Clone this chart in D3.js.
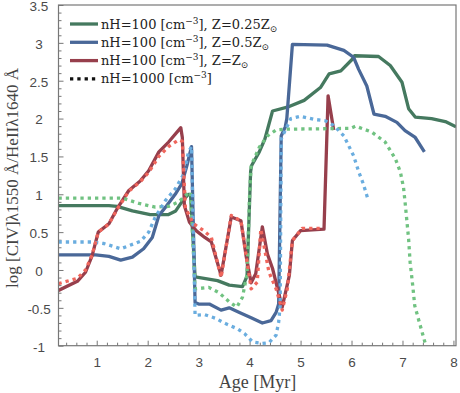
<!DOCTYPE html>
<html>
<head>
<meta charset="utf-8">
<script src="https://cdn.jsdelivr.net/npm/d3@7"></script>
<style>
body { margin: 0; background: #fff; }
.tick text { font-family: "Liberation Sans", Arial, sans-serif; font-size: 13.5px; fill: #4a4a4a; }
.lab { font-family: "DejaVu Serif", serif; fill: #444; }
.axlab { font-family: "Liberation Serif", serif; fill: #444; }
</style>
</head>
<body>
<div id="chart"></div>
<script>
// [age (Myr), log CIV/HeII]
var green100 = [[0.25,0.85],[1.24,0.85],[1.4,0.84],[1.7,0.78],[2.05,0.73],[2.4,0.73],[2.55,0.78],[2.67,0.9],[2.8,1.0],[2.84,1.0],[2.93,-0.09],[3.37,-0.14],[3.6,-0.2],[3.86,-0.22],[3.95,-0.08],[4.02,1.3],[4.04,1.38],[4.19,1.56],[4.3,1.73],[4.45,2.10],[4.74,2.15],[5.07,2.24],[5.39,2.41],[5.56,2.59],[5.79,2.63],[6.01,2.78],[6.06,2.83],[6.53,2.82],[6.76,2.70],[6.99,2.48],[7.12,2.13],[7.25,2.02],[7.57,2.00],[7.84,1.96],[8.05,1.89]];
var blue100 = [[0.25,0.20],[0.98,0.20],[1.24,0.18],[1.47,0.13],[1.70,0.17],[1.92,0.28],[2.09,0.43],[2.22,0.72],[2.35,0.83],[2.54,1.0],[2.67,1.14],[2.77,1.38],[2.86,1.63],[2.93,-0.43],[3.0,-0.45],[3.21,-0.45],[3.44,-0.53],[3.6,-0.50],[3.8,-0.56],[4.03,-0.63],[4.25,-0.70],[4.42,-0.67],[4.52,-0.56],[4.57,-0.45],[4.62,1.77],[4.7,1.89],[4.73,2.0],[4.84,2.98],[5.52,2.97],[5.85,2.90],[6.04,2.81],[6.14,2.65],[6.30,2.43],[6.44,2.06],[6.66,2.03],[6.89,1.95],[7.05,1.84],[7.25,1.75],[7.43,1.56]];
var red100 = [[0.25,-0.27],[0.62,-0.15],[0.78,-0.03],[0.91,0.19],[1.03,0.50],[1.24,0.61],[1.40,0.81],[1.63,1.05],[1.86,1.18],[2.02,1.31],[2.22,1.56],[2.41,1.69],[2.65,1.88],[2.68,1.75],[2.72,0.85],[2.82,0.63],[2.95,0.52],[3.12,0.43],[3.25,0.37],[3.44,-0.07],[3.64,0.70],[3.83,0.65],[3.93,0.19],[4.03,-0.17],[4.12,-0.05],[4.25,0.57],[4.35,0.21],[4.45,0.02],[4.64,-0.49],[4.78,-0.07],[4.84,0.39],[5.0,0.52],[5.46,0.54],[5.54,2.30],[5.65,1.85]];
var green1000 = [[0.25,0.95],[1.5,0.95],[1.83,0.88],[2.15,0.83],[2.41,0.84],[2.61,0.90],[2.77,1.0],[2.84,1.03],[2.93,-0.25],[3.2,-0.23],[3.4,-0.3],[3.6,-0.42],[3.75,-0.49],[3.86,-0.36],[3.95,-0.05],[4.0,1.0],[4.03,1.38],[4.19,1.62],[4.35,1.77],[4.52,1.85],[4.74,1.86],[5.98,1.87],[6.08,1.90],[6.4,1.82],[6.66,1.69],[6.86,1.47],[6.96,1.29],[7.02,1.09],[7.05,0.90],[7.12,0.41],[7.15,0.10],[7.2,-0.2],[7.24,-0.47],[7.31,-0.64],[7.43,-0.93],[7.46,-1.0]];
var blue1000 = [[0.25,0.37],[0.91,0.37],[1.14,0.35],[1.47,0.28],[1.63,0.32],[1.86,0.38],[2.02,0.50],[2.15,0.70],[2.35,0.92],[2.54,1.07],[2.71,1.27],[2.80,1.56],[2.86,1.63],[2.93,-0.60],[3.12,-0.59],[3.34,-0.64],[3.5,-0.70],[3.6,-0.73],[3.77,-0.78],[3.9,-0.84],[4.06,-0.95],[4.25,-0.97],[4.38,-0.96],[4.52,-0.86],[4.57,-0.69],[4.6,-0.47],[4.62,1.73],[4.71,1.86],[4.81,2.0],[5.0,2.03],[5.26,1.99],[5.49,1.97],[5.65,1.91],[5.85,1.77],[6.04,1.51],[6.14,1.30],[6.23,1.14],[6.32,0.94]];
var red1000 = [[0.25,-0.18],[0.62,-0.11],[0.78,0.0],[0.91,0.2],[1.03,0.5],[1.24,0.61],[1.40,0.80],[1.63,1.04],[1.86,1.17],[2.02,1.29],[2.22,1.50],[2.41,1.63],[2.61,1.72],[2.68,1.70],[2.74,0.82],[2.9,0.61],[3.1,0.52],[3.25,0.43],[3.44,-0.10],[3.64,0.72],[3.83,0.65],[4.03,-0.25],[4.15,-0.16],[4.22,0.54],[4.38,-0.03],[4.52,-0.25],[4.64,-0.53],[4.74,-0.25],[4.84,0.39],[5.03,0.55],[5.39,0.55]];

var metallicity = ["0.25Z", "0.5Z", "Z"];
var xTicks = [1, 2, 3, 4, 5, 6, 7, 8];
var yTicks = [-1, -0.5, 0, 0.5, 1, 1.5, 2, 2.5, 3, 3.5];

var width = 460, height = 393;
var plot = {left: 58.5, right: 456, top: 5, bottom: 345.7};

var svg = d3.select("#chart")
    .append("svg")
    .attr("width", width)
    .attr("height", height);

var x = d3.scaleLinear().domain([0.25, 8.05]).range([plot.left, plot.right]);
var y = d3.scaleLinear().domain([-1, 3.5]).range([plot.bottom, plot.top]);

svg.append("clipPath").attr("id", "clip")
    .append("rect")
    .attr("x", plot.left).attr("y", plot.top)
    .attr("width", plot.right - plot.left).attr("height", plot.bottom - plot.top);

// minor ticks
var xMinor = d3.range(0.4, 8.05, 0.2).filter(function (v) { return Math.abs(v - Math.round(v)) > 0.01; });
var yMinor = d3.range(-0.9, 3.5, 0.1).filter(function (v) { return Math.abs(v * 2 - Math.round(v * 2)) > 0.01; });

svg.append("g")
    .attr("transform", "translate(0," + plot.bottom + ")")
    .call(d3.axisBottom(x).tickValues(xMinor).tickSize(-3).tickFormat(""))
    .call(function (g) { g.select(".domain").remove(); g.selectAll("line").attr("stroke", "#777"); });
svg.append("g")
    .attr("transform", "translate(" + plot.left + ",0)")
    .call(d3.axisLeft(y).tickValues(yMinor).tickSize(-3).tickFormat(""))
    .call(function (g) { g.select(".domain").remove(); g.selectAll("line").attr("stroke", "#777"); });

// major ticks
svg.append("g")
    .attr("transform", "translate(0," + plot.bottom + ")")
    .call(d3.axisBottom(x).tickValues(xTicks).tickSize(-5).tickPadding(12).tickFormat(function (d) { return String(d); }))
    .call(function (g) { g.select(".domain").remove(); g.selectAll("line").attr("stroke", "#777"); });
svg.append("g")
    .attr("transform", "translate(" + plot.left + ",0)")
    .call(d3.axisLeft(y).tickValues(yTicks).tickSize(-5).tickFormat(function (d) { return String(d); }))
    .call(function (g) {
        g.select(".domain").remove();
        g.selectAll("line").attr("stroke", "#777");
        g.selectAll("text").attr("x", -19.5).attr("text-anchor", "middle").attr("dy", "0.4em");
    });

var line = d3.line()
    .x(function (d) { return x(d[0]); })
    .y(function (d) { return y(d[1]); });

var series = [
    {data: green100, color: "#45795f", dotted: false},
    {data: blue100, color: "#4a6898", dotted: false},
    {data: red100, color: "#973f4c", dotted: false},
    {data: green1000, color: "#70c281", dotted: true},
    {data: blue1000, color: "#6aaddf", dotted: true},
    {data: red1000, color: "#f0665c", dotted: true}
];

var lines = svg.append("g").attr("clip-path", "url(#clip)");
lines.selectAll("path")
    .data(series)
    .enter()
    .append("path")
    .attr("d", function (d) { return line(d.data); })
    .attr("fill", "none")
    .attr("stroke", function (d) { return d.color; })
    .attr("stroke-width", 3.3)
    .attr("stroke-linejoin", "round")
    .attr("stroke-dasharray", function (d) { return d.dotted ? "3.3,4" : null; });

// frame
svg.append("rect")
    .attr("x", plot.left).attr("y", plot.top)
    .attr("width", plot.right - plot.left).attr("height", plot.bottom - plot.top)
    .attr("fill", "none")
    .attr("stroke", "#777")
    .attr("stroke-width", 1.2);

// legend
var legend = svg.append("g").attr("transform", "translate(70,24)");
var legendColors = ["#45795f", "#4a6898", "#973f4c"];
var rowH = 18.3;
metallicity.forEach(function (z, i) {
    var row = legend.append("g").attr("transform", "translate(0," + i * rowH + ")");
    row.append("line").attr("x1", 0).attr("x2", 28)
        .attr("stroke", legendColors[i]).attr("stroke-width", 3.3);
    var t = row.append("text").attr("class", "lab").attr("x", 31).attr("y", 4.5).style("font-size", "13px").style("fill", "#222");
    t.append("tspan").text("nH=100 [cm");
    t.append("tspan").attr("dy", -5).style("font-size", "9px").text("\u22123");
    t.append("tspan").attr("dy", 5).text("], Z=" + z);
    t.append("tspan").attr("dy", 3).style("font-size", "9px").text("\u2299");
});
var row4 = legend.append("g").attr("transform", "translate(0," + 3 * rowH + ")");
row4.append("line").attr("x1", 0).attr("x2", 28)
    .attr("stroke", "#111").attr("stroke-width", 3.3).attr("stroke-dasharray", "3.3,4");
var t4 = row4.append("text").attr("class", "lab").attr("x", 31).attr("y", 4.5).style("font-size", "13px").style("fill", "#222");
t4.append("tspan").text("nH=1000 [cm");
t4.append("tspan").attr("dy", -5).style("font-size", "9px").text("\u22123");
t4.append("tspan").attr("dy", 5).text("]");

// axis labels
svg.append("text").attr("class", "axlab")
    .attr("x", 257.5).attr("y", 388)
    .attr("text-anchor", "middle").style("font-size", "18px")
    .text("Age [Myr]");
svg.append("text").attr("class", "axlab")
    .attr("transform", "translate(18," + 178 + ") rotate(-90)")
    .attr("text-anchor", "middle").style("font-size", "17px")
    .text("log [CIV]\u03bb1550 \u00c5/HeII\u03bb1640 \u00c5");
</script>
</body>
</html>
